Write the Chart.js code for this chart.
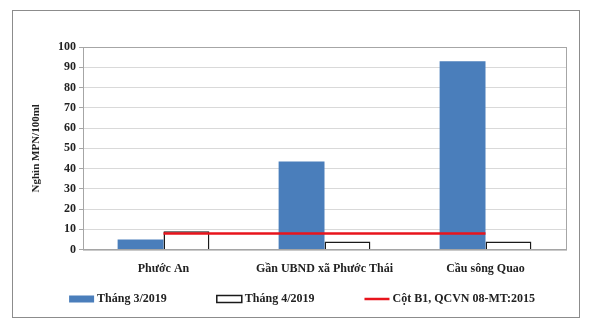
<!DOCTYPE html>
<html>
<head>
<meta charset="utf-8">
<script src="https://cdn.jsdelivr.net/npm/chart.js@4"></script>
<style>
  body { margin: 0; background: #fff; }
  #frame {
    position: absolute; left: 12px; top: 10px;
    width: 566px; height: 306px;
    border: 1px solid #8c8c8c;
  }
</style>
</head>
<body>
<div id="frame"><canvas id="coliChart" width="566" height="306"></canvas></div>
<script>
// sampling sites and coliform values (thousand MPN/100ml)
const sites = ['Phước An', 'Gần UBND xã Phước Thái', 'Cầu sông Quao'];
const march2019 = [5, 43.5, 93];
const april2019 = [9, 4, 4];
const limitB1 = [8, 8, 8];
const yTicks = [0, 10, 20, 30, 40, 50, 60, 70, 80, 90, 100];

const serif = { family: '"Liberation Serif", "Times New Roman", serif', weight: 'bold', size: 12 };

// box around the plot area
const plotBox = {
  id: 'plotBox',
  afterDraw(chart) {
    const a = chart.chartArea, c = chart.ctx;
    c.save();
    c.strokeStyle = '#a6a6a6';
    c.lineWidth = 1;
    c.strokeRect(a.left + 0.5, a.top + 0.5, a.right - a.left, a.bottom - a.top);
    c.restore();
  }
};

// legend in one row with wide gaps between the entries
const wideLegend = {
  id: 'wideLegend',
  afterDraw(chart) {
    const c = chart.ctx;
    const order = [1, 2, 0];
    const boxW = 25, gap = 50, y = 288;
    c.save();
    c.font = `bold ${serif.size}px ${serif.family}`;
    c.textBaseline = 'middle';
    const widths = order.map(i => boxW + 3 + c.measureText(chart.data.datasets[i].label).width);
    const total = widths.reduce((s, w) => s + w, 0) + gap * (order.length - 1);
    let x = (chart.width - total) / 2 + 6;
    order.forEach((i, k) => {
      const ds = chart.data.datasets[i];
      if (ds.type === 'line') {
        c.strokeStyle = ds.borderColor;
        c.lineWidth = ds.borderWidth;
        c.beginPath();
        c.moveTo(x, y);
        c.lineTo(x + boxW, y);
        c.stroke();
      } else {
        c.fillStyle = ds.backgroundColor;
        c.fillRect(x, y - 3.5, boxW, 7);
        if (ds.borderWidth) {
          c.strokeStyle = ds.borderColor;
          c.lineWidth = ds.borderWidth;
          c.strokeRect(x, y - 3.5, boxW, 7);
        }
      }
      c.fillStyle = '#222';
      c.fillText(ds.label, x + boxW + 3, y);
      x += widths[k] + gap;
    });
    c.restore();
  }
};

const ctx = document.getElementById('coliChart').getContext('2d');
const coliChart = new Chart(ctx, {
  data: {
    labels: sites,
    datasets: [{
      type: 'line',
      label: 'Cột B1, QCVN 08-MT:2015',
      data: limitB1,
      borderColor: '#e8141c',
      backgroundColor: '#e8141c',
      borderWidth: 2.5,
      pointRadius: 0,
      order: 0
    }, {
      type: 'bar',
      label: 'Tháng 3/2019',
      data: march2019,
      backgroundColor: '#4a7ebb',
      borderColor: '#4a7ebb',
      borderWidth: 0,
      categoryPercentage: 0.57,
      barPercentage: 1,
      order: 1
    }, {
      type: 'bar',
      label: 'Tháng 4/2019',
      data: april2019,
      backgroundColor: '#ffffff',
      borderColor: '#1a1a1a',
      borderWidth: 1.5,
      categoryPercentage: 0.57,
      barPercentage: 1,
      order: 1
    }]
  },
  options: {
    responsive: false,
    animation: false,
    layout: { padding: { left: 0, right: 13, top: 36, bottom: 37 } },
    scales: {
      x: {
        grid: { display: false },
        border: { color: '#a6a6a6' },
        ticks: { color: '#222', font: serif, padding: 4 }
      },
      y: {
        min: 0,
        max: 100,
        afterBuildTicks(scale) { scale.ticks = yTicks.map(v => ({ value: v })); },
        afterFit(scale) { scale.width = 70; },
        grid: { color: '#d9d9d9', tickLength: 4, tickColor: '#a6a6a6' },
        border: { color: '#a6a6a6' },
        ticks: { color: '#222', font: serif, padding: 3, autoSkip: false },
        title: {
          display: true,
          text: 'Nghìn MPN/100ml',
          color: '#222',
          font: { family: serif.family, weight: 'bold', size: 11 },
          padding: { top: 17, bottom: 0 }
        }
      }
    },
    plugins: {
      legend: { display: false },
      tooltip: { enabled: false }
    }
  },
  plugins: [plotBox, wideLegend]
});
</script>
</body>
</html>
